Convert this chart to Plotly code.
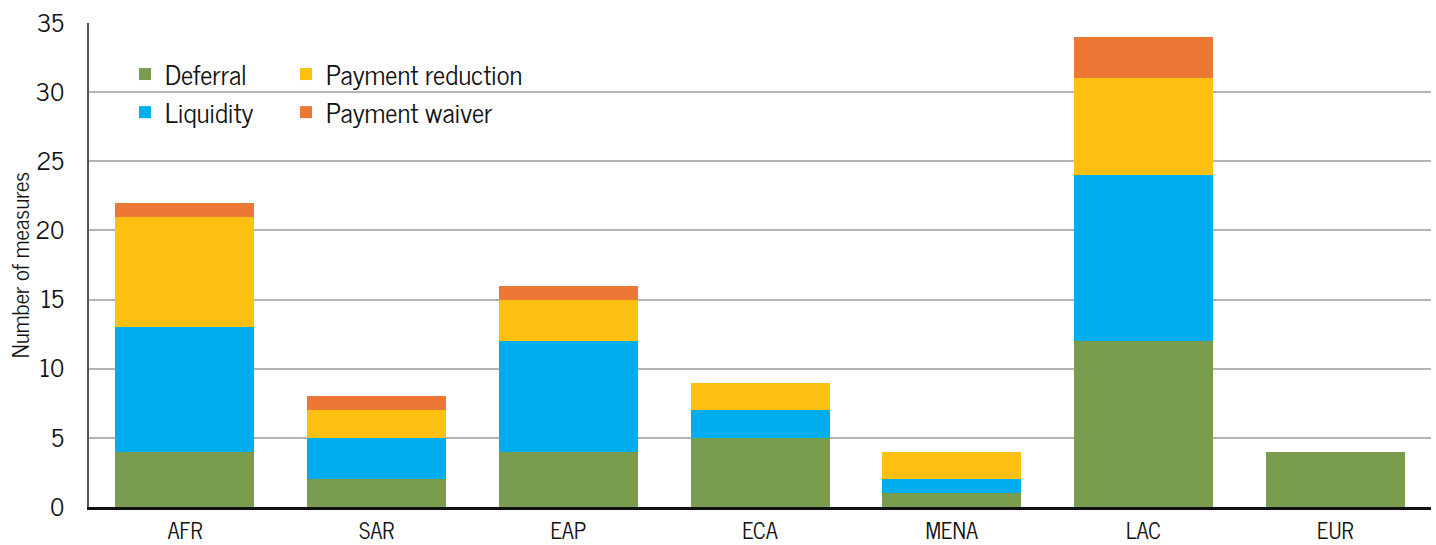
import plotly.graph_objects as go

categories = ["AFR", "SAR", "EAP", "ECA", "MENA", "LAC", "EUR"]
deferral = [4, 2, 4, 5, 1, 12, 4]
liquidity = [9, 3, 8, 2, 1, 12, 0]
payment_reduction = [8, 2, 3, 2, 2, 7, 0]
payment_waiver = [1, 1, 1, 0, 0, 3, 0]
y_ticks = [0, 5, 10, 15, 20, 25, 30, 35]

FONT = "News Cycle, Archivo Narrow, sans-serif"
W, H = 1436, 545
ML, MR, MT, MB = 89, 5, 23, 38
PW = W - ML - MR
PH = H - MT - MB

series = [
    ("Deferral", deferral, "#7A9C4E", "legend", 1),
    ("Liquidity", liquidity, "#00AEEF", "legend", 2),
    ("Payment reduction", payment_reduction, "#FDC010", "legend2", 1),
    ("Payment waiver", payment_waiver, "#ED7734", "legend2", 2),
]

fig = go.Figure()
for name, vals, color, leg, rank in series:
    fig.add_trace(go.Bar(
        x=categories, y=vals, name=name, marker_color=color,
        marker_line_width=0, legend=leg, legendrank=rank, legendgroup=name,
        hoverinfo="skip",
    ))

def px_x(p):
    return (p - ML) / PW

def px_y(p):
    return 1 - (p - MT) / PH

legend_common = dict(
    bgcolor="rgba(0,0,0,0)", font=dict(family=FONT, size=27, color="#111"),
    orientation="v", xanchor="left", yanchor="top", tracegroupgap=1,
    traceorder="normal", itemclick=False,
)

fig.update_layout(
    width=W, height=H,
    margin=dict(l=ML, r=MR, t=MT, b=MB, pad=0, autoexpand=False),
    paper_bgcolor="white", plot_bgcolor="white",
    barmode="stack", bargap=0.275,
    font=dict(family=FONT, size=20, color="#111"),
    showlegend=True,
    legend=dict(x=px_x(125), y=px_y(50), **legend_common),
    legend2=dict(x=px_x(286), y=px_y(50), **legend_common),
    xaxis=dict(
        showgrid=False, showline=True, linecolor="#111", linewidth=2.5,
        ticks="", tickfont=dict(family=FONT, size=22, color="#111"),
        ticklabelstandoff=3, automargin=False,
    ),
    yaxis=dict(
        range=[0, 35], tickvals=y_ticks, showgrid=True, gridcolor="#B4B4B4",
        gridwidth=1.5, showline=True, linecolor="#555", linewidth=2,
        zeroline=False, ticks="", ticklabelstandoff=18, automargin=False,
        tickfont=dict(family=FONT, size=25, color="#111"),
        title=dict(text="Number of measures", font=dict(family=FONT, size=23, color="#111"), standoff=12),
    ),
    shapes=[dict(
        type="rect", xref="paper", yref="paper", layer="between",
        x0=px_x(107), x1=px_x(560), y0=px_y(135), y1=px_y(50),
        fillcolor="white", line_width=0,
    )],
)

fig.write_html(
    "out.html",
    config={"displayModeBar": False},
    post_script="document.body.style.margin='0';document.body.style.padding='0';",
)
